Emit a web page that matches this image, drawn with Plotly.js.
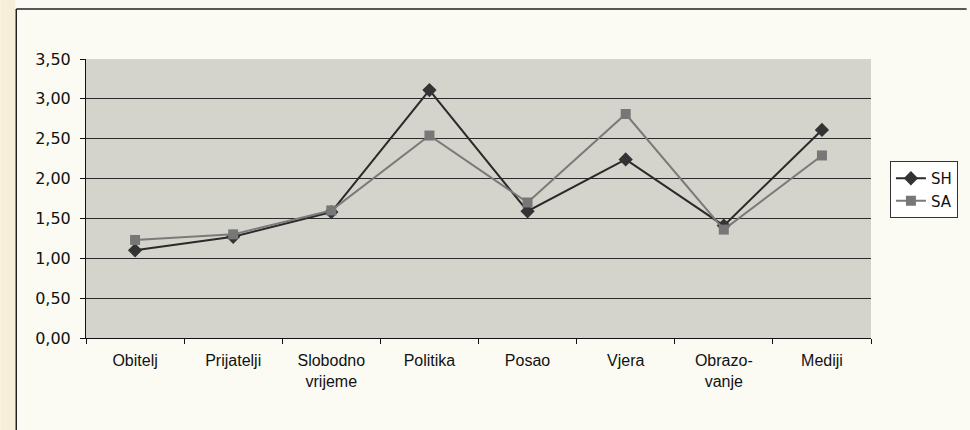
<!DOCTYPE html>
<html>
<head>
<meta charset="utf-8">
<script src="https://cdn.plot.ly/plotly-3.0.1.min.js"></script>
<style>html,body{margin:0;padding:0;background:#fbfbf3;}#chart{width:970px;height:430px;}</style>
</head>
<body>
<div id="chart"></div>
<script>
var categories = ["Obitelj", "Prijatelji", "Slobodno<br>vrijeme", "Politika", "Posao", "Vjera", "Obrazo-<br>vanje", "Mediji"];
var shValues = [1.10, 1.27, 1.58, 3.11, 1.59, 2.24, 1.41, 2.61];
var saValues = [1.23, 1.30, 1.60, 2.54, 1.70, 2.81, 1.36, 2.29];
var yTicks = [0, 0.5, 1, 1.5, 2, 2.5, 3, 3.5];

var W = 970, H = 430, L = 86, R = 96, T = 59, B = 92;
var pw = W - L - R, ph = H - T - B;
function px(x){ return (x - L) / pw; }
function py(y){ return (H - B - y) / ph; }

var traces = [
  {x: categories, y: shValues, name: "SH", type: "scatter", mode: "lines+markers",
   line: {color: "#2a2a2a", width: 2},
   marker: {symbol: "diamond", size: 11, color: "#333333"}},
  {x: categories, y: saValues, name: "SA", type: "scatter", mode: "lines+markers",
   line: {color: "#7a7a7a", width: 2},
   marker: {symbol: "square", size: 10, color: "#777777"}}
];

var layout = {
  width: W, height: H,
  margin: {l: L, r: R, t: T, b: B, pad: 0},
  paper_bgcolor: "#fbfbf3",
  plot_bgcolor: "#d4d4cc",
  font: {family: "Liberation Sans, Arial, sans-serif", color: "#111"},
  showlegend: true,
  separators: ",.",
  xaxis: {
    type: "category",
    tickson: "boundaries",
    ticks: "outside", ticklen: 5, tickcolor: "#111",
    showline: true, linecolor: "#111", linewidth: 1,
    showgrid: false,
    ticklabelstandoff: 8,
    tickfont: {family: "Liberation Sans, Arial, sans-serif", size: 16, color: "#111"},
    range: [-0.5, 7.5]
  },
  yaxis: {
    range: [0, 3.5],
    tickvals: yTicks,
    tickformat: ".2f",
    ticks: "outside", ticklen: 5, tickcolor: "#111",
    showline: true, linecolor: "#111", linewidth: 1,
    showgrid: true, gridcolor: "#2a2a2a", gridwidth: 1,
    zeroline: false,
    ticklabelstandoff: 6,
    tickfont: {family: "DejaVu Sans, Verdana, sans-serif", size: 16, color: "#111"}
  },
  legend: {
    x: px(893), y: py(161), xanchor: "left", yanchor: "top",
    bgcolor: "#ffffff", bordercolor: "#333", borderwidth: 1,
    font: {family: "DejaVu Sans, Verdana, sans-serif", size: 15, color: "#111"},
    tracegroupgap: 0, itemwidth: 30
  },
  shapes: [
    {type: "rect", xref: "paper", yref: "paper", x0: px(0), x1: px(15), y0: py(H), y1: py(0),
     fillcolor: "#f6eed8", line: {width: 0}, layer: "below"},
    {type: "line", xref: "paper", yref: "paper", x0: px(16), x1: px(16), y0: py(H), y1: py(9),
     line: {color: "#222", width: 1.5}},
    {type: "line", xref: "paper", yref: "paper", x0: px(16), x1: px(W), y0: py(9), y1: py(9),
     line: {color: "#222", width: 1.5}}
  ]
};

Plotly.newPlot("chart", traces, layout, {displayModeBar: false, staticPlot: true});
</script>
</body>
</html>
